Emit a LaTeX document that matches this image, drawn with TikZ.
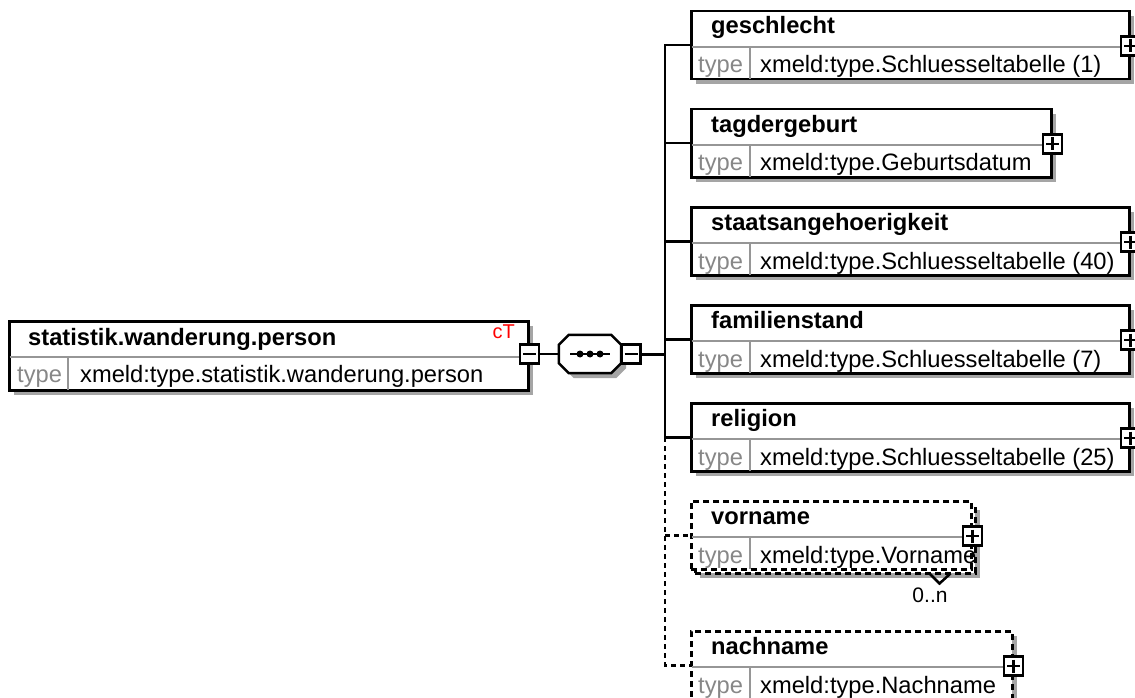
\documentclass[tikz,border=0pt]{standalone}
\usepackage{fontspec}
\setmainfont{Liberation Sans}
\usetikzlibrary{calc,shadows}
\definecolor{shadowgray}{RGB}{165,165,165}
\definecolor{divgray}{RGB}{150,150,150}
\definecolor{typegray}{RGB}{135,135,135}
\definecolor{ctred}{RGB}{255,0,0}
\newcommand\elemdraw[7]{%
  \node[#7, minimum width=#4pt] (#1) at (#2,#3) {};
  \draw[divider] ($(#1.north west)+(1.5,37)$) -- ($(#1.north east)+(-1.5,37)$);
  \draw[divider] ($(#1.north west)+(60,37)$) -- ($(#1.south west)+(60,-1.5)$);
  \node[titletext] (#1-t) at ($(#1.north west)+(21,24)$) {#5};
  \node[typelabel] (#1-k) at ($(#1.north west)+(8,63)$) {type};
  \node[typetext] (#1-v) at ($(#1.north west)+(70,63)$) {#6};
  \node[pmbox] (#1-p) at ($(#1.north east)+(0,36)$) {};
  \draw[pmline] ($(#1-p.center)+(-6.5,0)$) -- ($(#1-p.center)+(6.5,0)$)
                ($(#1-p.center)+(0,-6.5)$) -- ($(#1-p.center)+(0,6.5)$);
}
\begin{document}
\begin{tikzpicture}[x=1pt,y=-1pt,
  shadowed/.style={drop shadow={shadow xshift=5pt, shadow yshift=-5pt, fill=shadowgray, opacity=1}},
  sbox/.style={draw=black, line width=2.5pt, fill=white, anchor=north west, inner sep=0pt, minimum height=68pt, shadowed},
  obox/.style={sbox, dash pattern=on 6pt off 4pt},
  oboxns/.style={draw=black, line width=2.5pt, fill=white, anchor=north west, inner sep=0pt, minimum height=68pt, dash pattern=on 6pt off 4pt},
  divider/.style={draw=divgray, line width=2pt},
  titletext/.style={anchor=base west, inner sep=0pt, font=\fontsize{23.7}{28}\selectfont\bfseries},
  typelabel/.style={anchor=base west, inner sep=0pt, text=typegray, font=\fontsize{23.7}{28}\selectfont},
  typetext/.style={anchor=base west, inner sep=0pt, font=\fontsize{23.7}{28}\selectfont},
  pmbox/.style={draw=black, line width=2.5pt, fill=white, minimum size=19pt, inner sep=0pt},
  pmline/.style={line width=2.5pt},
  conn/.style={line width=2.5pt},
  dconn/.style={line width=2.5pt, dash pattern=on 5pt off 4pt},
]
\useasboundingbox (0,0) rectangle (1135,698);

% main element
\node[sbox, minimum width=519pt, minimum height=69pt] (main) at (8,320) {};
\draw[divider] ($(main.north west)+(1.5,37)$) -- ($(main.north east)+(-1.5,37)$);
\draw[divider] ($(main.north west)+(60,37)$) -- ($(main.south west)+(60,-1.5)$);
\node[titletext] (main-t) at ($(main.north west)+(20,25)$) {statistik.wanderung.person};
\node[typelabel] (main-k) at ($(main.north west)+(9,62)$) {type};
\node[typetext] (main-v) at ($(main.north west)+(72,62)$) {xmeld:type.statistik.wanderung.person};
\node[anchor=base east, inner sep=0pt, text=ctred, font=\fontsize{20}{24}\selectfont] (main-ct) at (515,338) {cT};
\node[pmbox] (main-m) at ($(main.north east)+(0,34)$) {};
\draw[pmline] ($(main-m.center)+(-6.5,0)$) -- ($(main-m.center)+(6.5,0)$);

% sequence compositor
\node[minimum width=62pt, minimum height=38pt, inner sep=0pt] (seq) at (590,354) {};
\draw[line width=2.5pt, fill=white, shadowed]
  ($(seq.north west)+(10,0)$) -- ($(seq.north east)+(-10,0)$) -- ($(seq.north east)+(0,10)$)
  -- ($(seq.south east)+(0,-10)$) -- ($(seq.south east)+(-10,0)$) -- ($(seq.south west)+(10,0)$)
  -- ($(seq.south west)+(0,-10)$) -- ($(seq.north west)+(0,10)$) -- cycle;
\draw[line width=2.5pt] ($(seq.center)+(-20,0)$) -- ($(seq.center)+(20,0)$);
\fill ($(seq.center)+(-10,0)$) circle (3.5pt) (seq.center) circle (3.5pt) ($(seq.center)+(10,0)$) circle (3.5pt);
\node[pmbox] (seq-m) at (631,354) {};
\draw[pmline] ($(seq-m.center)+(-6.5,0)$) -- ($(seq-m.center)+(6.5,0)$);
\draw[line width=2pt] (main-m.east) -- (seq.west);

% children
\elemdraw{geschlecht}{690}{10}{438}{geschlecht}{xmeld:type.Schluesseltabelle (1)}{sbox}
\elemdraw{tagdergeburt}{690}{108}{360}{tagdergeburt}{xmeld:type.Geburtsdatum}{sbox}
\elemdraw{staats}{690}{206}{438}{staatsangehoerigkeit}{xmeld:type.Schluesseltabelle (40)}{sbox}
\elemdraw{familienstand}{690}{304}{438}{familienstand}{xmeld:type.Schluesseltabelle (7)}{sbox}
\elemdraw{religion}{690}{402}{438}{religion}{xmeld:type.Schluesseltabelle (25)}{sbox}
\node[obox, minimum width=280pt] (vorname-back) at (694,504) {};
\elemdraw{vorname}{690}{500}{280}{vorname}{xmeld:type.Vorname}{oboxns}
\elemdraw{nachname}{690}{630}{321}{nachname}{xmeld:type.Nachname}{obox}

% occurrence mark
\draw[line width=2.5pt] ($(vorname.south east)+(-43,3)$) -- ($(vorname.south east)+(-33,13)$) -- ($(vorname.south east)+(-22,3)$);
\node[anchor=base, inner sep=0pt, font=\fontsize{21}{25}\selectfont] (vorname-occ) at (930,602) {0..n};

% connectors
\coordinate (bus) at (665,354);
\draw[line width=3pt] (seq-m.east) -- (bus);
\draw[conn] (geschlecht.west) -- (geschlecht.west -| bus) -- (religion.west -| bus) -- (religion.west);
\draw[conn] (tagdergeburt.west -| bus) -- (tagdergeburt.west);
\draw[conn] (staats.west -| bus) -- (staats.west);
\draw[conn] (familienstand.west -| bus) -- (familienstand.west);
\draw[dconn] (religion.west -| bus) -- (nachname.west -| bus) -- (nachname.west);
\draw[dconn] (vorname.west -| bus) -- (vorname.west);
\end{tikzpicture}
\end{document}
